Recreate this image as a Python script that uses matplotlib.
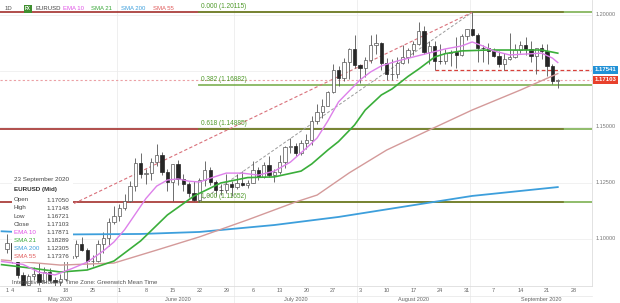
import matplotlib
matplotlib.use("Agg")
import matplotlib.pyplot as plt
import matplotlib.transforms as mtransforms
from matplotlib.patches import Rectangle
import numpy as np
import pandas as pd

plt.rcParams['font.family'] = ['Liberation Sans', 'DejaVu Sans']

START = "2020-05-01"
dates = pd.bdate_range(START, "2020-09-23")

# daily EUR/USD candles (mid)
opens = [1.0955, 1.0982, 1.0907, 1.0838, 1.0795, 1.0833, 1.0840, 1.0808, 1.0850, 1.0816,
         1.0806, 1.0820, 1.0915, 1.0923, 1.0976, 1.0948, 1.0900, 1.0902, 1.0976, 1.1005,
         1.1076, 1.1100, 1.1135, 1.1170, 1.1235, 1.1336, 1.1289, 1.1295, 1.1341, 1.1374,
         1.1298, 1.1255, 1.1333, 1.1265, 1.1245, 1.1205, 1.1175, 1.1260, 1.1307, 1.1251,
         1.1219, 1.1218, 1.1245, 1.1233, 1.1250, 1.1238, 1.1247, 1.1309, 1.1274, 1.1330,
         1.1284, 1.1300, 1.1343, 1.1411, 1.1413, 1.1382, 1.1428, 1.1443, 1.1527, 1.1568,
         1.1595, 1.1655, 1.1755, 1.1718, 1.1789, 1.1846, 1.1777, 1.1762, 1.1800, 1.1866,
         1.1875, 1.1787, 1.1736, 1.1737, 1.1787, 1.1813, 1.1842, 1.1870, 1.1930, 1.1834,
         1.1860, 1.1795, 1.1792, 1.1831, 1.1832, 1.1821, 1.1904, 1.1936, 1.1912, 1.1853,
         1.1850, 1.1838, 1.1815, 1.1780, 1.1803, 1.1813, 1.1845, 1.1865, 1.1846, 1.1815,
         1.1850, 1.1838, 1.1770, 1.17050]
highs = [1.1019, 1.0988, 1.0925, 1.0850, 1.0840, 1.0875, 1.0890, 1.0873, 1.0870, 1.0830,
         1.0840, 1.0925, 1.0975, 1.0995, 1.1008, 1.0957, 1.0925, 1.0995, 1.1030, 1.1092,
         1.1146, 1.1155, 1.1198, 1.1258, 1.1361, 1.1384, 1.1310, 1.1359, 1.1422, 1.1389,
         1.1312, 1.1335, 1.1350, 1.1290, 1.1255, 1.1257, 1.1270, 1.1349, 1.1320, 1.1263,
         1.1244, 1.1288, 1.1259, 1.1290, 1.1303, 1.1264, 1.1346, 1.1320, 1.1344, 1.1371,
         1.1310, 1.1375, 1.1413, 1.1452, 1.1427, 1.1443, 1.1468, 1.1546, 1.1601, 1.1626,
         1.1658, 1.1781, 1.1772, 1.1808, 1.1850, 1.1908, 1.1780, 1.1810, 1.1908, 1.1916,
         1.1880, 1.1806, 1.1805, 1.1814, 1.1865, 1.1853, 1.1882, 1.1966, 1.1951, 1.1884,
         1.1883, 1.1870, 1.1849, 1.1843, 1.1900, 1.1916, 1.1938, 1.20115, 1.1920, 1.1866,
         1.1873, 1.1850, 1.1837, 1.1831, 1.1917, 1.1872, 1.1885, 1.1900, 1.1882, 1.1851,
         1.1872, 1.1872, 1.1781, 1.17148]
lows = [1.0935, 1.0893, 1.0825, 1.0782, 1.0766, 1.0815, 1.0794, 1.0805, 1.0808, 1.0775,
        1.0786, 1.0812, 1.0900, 1.0915, 1.0946, 1.0870, 1.0880, 1.0895, 1.0935, 1.0968,
        1.1065, 1.1078, 1.1127, 1.1163, 1.1212, 1.1269, 1.1245, 1.1260, 1.1325, 1.1285,
        1.1211, 1.1170, 1.1241, 1.1215, 1.1185, 1.1168, 1.11652, 1.1235, 1.1240, 1.1189,
        1.1197, 1.1204, 1.1190, 1.1223, 1.1234, 1.1226, 1.1247, 1.1260, 1.1270, 1.1275,
        1.1254, 1.1290, 1.1314, 1.1385, 1.1371, 1.1375, 1.1400, 1.1420, 1.1511, 1.1540,
        1.1591, 1.1650, 1.1683, 1.1706, 1.1715, 1.1762, 1.1697, 1.1721, 1.1787, 1.1825,
        1.1755, 1.1710, 1.1711, 1.1716, 1.1781, 1.1785, 1.1819, 1.1867, 1.1826, 1.1782,
        1.17541, 1.1781, 1.1780, 1.1772, 1.1762, 1.1816, 1.1888, 1.1907, 1.1790, 1.1790,
        1.1782, 1.1811, 1.1766, 1.1752, 1.1800, 1.1809, 1.1831, 1.1822, 1.1789, 1.1737,
        1.1805, 1.1729, 1.1690, 1.16721]
closes = [1.0982, 1.0907, 1.0838, 1.0795, 1.0833, 1.0840, 1.0808, 1.0850, 1.0816, 1.0806,
          1.0820, 1.0915, 1.0923, 1.0976, 1.0948, 1.0900, 1.0902, 1.0976, 1.1005, 1.1076,
          1.1100, 1.1135, 1.1170, 1.1235, 1.1336, 1.1289, 1.1295, 1.1341, 1.1374, 1.1298,
          1.1255, 1.1333, 1.1265, 1.1245, 1.1205, 1.1175, 1.1260, 1.1307, 1.1251, 1.1219,
          1.1218, 1.1245, 1.1233, 1.1250, 1.1238, 1.1247, 1.1309, 1.1274, 1.1330, 1.1284,
          1.1300, 1.1343, 1.1411, 1.1413, 1.1382, 1.1428, 1.1443, 1.1527, 1.1568, 1.1595,
          1.1655, 1.1755, 1.1718, 1.1789, 1.1846, 1.1777, 1.1762, 1.1800, 1.1866, 1.1875,
          1.1787, 1.1736, 1.1737, 1.1787, 1.1813, 1.1842, 1.1870, 1.1930, 1.1834, 1.1860,
          1.1795, 1.1792, 1.1831, 1.1832, 1.1821, 1.1904, 1.1936, 1.1912, 1.1853, 1.1850,
          1.1838, 1.1815, 1.1780, 1.1803, 1.1813, 1.1845, 1.1865, 1.1846, 1.1815, 1.1850,
          1.1838, 1.1770, 1.1705, 1.17103]

# moving averages
ema10_dates = ["2020-04-30", "2020-05-01", "2020-05-06", "2020-05-11", "2020-05-14", "2020-05-19",
               "2020-05-22", "2020-05-27", "2020-05-29", "2020-06-02", "2020-06-04", "2020-06-08",
               "2020-06-10", "2020-06-12", "2020-06-16", "2020-06-18", "2020-06-22", "2020-06-24",
               "2020-06-29", "2020-07-02", "2020-07-07", "2020-07-10", "2020-07-15", "2020-07-20",
               "2020-07-22", "2020-07-24", "2020-07-28", "2020-07-30", "2020-08-03", "2020-08-05",
               "2020-08-07", "2020-08-12", "2020-08-17", "2020-08-20", "2020-08-25", "2020-08-28",
               "2020-09-01", "2020-09-03", "2020-09-07", "2020-09-10", "2020-09-15", "2020-09-18",
               "2020-09-22", "2020-09-23"]
ema10 = [1.0898, 1.0895, 1.0885, 1.0850, 1.0838, 1.0865, 1.0895, 1.0945, 1.0985, 1.1040, 1.1110,
         1.1180, 1.1235, 1.1262, 1.1267, 1.1257, 1.1253, 1.1270, 1.1293, 1.1293, 1.1284, 1.1302,
         1.1342, 1.1405, 1.1450, 1.1526, 1.1611, 1.1660, 1.1709, 1.1745, 1.1772, 1.1794, 1.1812,
         1.1830, 1.1848, 1.1861, 1.1879, 1.1861, 1.1839, 1.1821, 1.1825, 1.1829, 1.1807, 1.17871]

sma21_dates = ["2020-04-30", "2020-05-08", "2020-05-15", "2020-05-22", "2020-05-29", "2020-06-05",
               "2020-06-12", "2020-06-19", "2020-06-26", "2020-07-03", "2020-07-10", "2020-07-17",
               "2020-07-21", "2020-07-24", "2020-07-28", "2020-07-31", "2020-08-04", "2020-08-07",
               "2020-08-11", "2020-08-14", "2020-08-18", "2020-08-21", "2020-08-25", "2020-08-28",
               "2020-09-04", "2020-09-11", "2020-09-18", "2020-09-23"]
sma21 = [1.0884, 1.0867, 1.0851, 1.0860, 1.0900, 1.0990, 1.1106, 1.1191, 1.1249, 1.1273, 1.1276,
         1.1302, 1.1334, 1.1396, 1.1434, 1.1508, 1.1575, 1.1642, 1.1669, 1.1725, 1.1758, 1.1812,
         1.1827, 1.1839, 1.1843, 1.1843, 1.1843, 1.18289]

sma55_dates = ["2020-04-30", "2020-05-15", "2020-05-29", "2020-06-10", "2020-06-22", "2020-07-03",
               "2020-07-16", "2020-07-22", "2020-07-30", "2020-08-10", "2020-08-20", "2020-09-01",
               "2020-09-14", "2020-09-23"]
sma55 = [1.0905, 1.0882, 1.0891, 1.0949, 1.1008, 1.1084, 1.1164, 1.1195, 1.1294, 1.1396, 1.1486,
         1.1575, 1.1664, 1.17376]

sma200_dates = ["2020-04-30", "2020-05-19", "2020-06-05", "2020-06-22", "2020-07-10", "2020-07-28",
                "2020-08-14", "2020-09-01", "2020-09-23"]
sma200 = [1.1033, 1.1019, 1.1021, 1.1030, 1.1061, 1.1097, 1.1146, 1.1191, 1.12305]

# fibonacci retracement between the June low and the September high
fib_dates = ["2020-06-22", "2020-09-01"]
fib_prices = [1.11652, 1.20115]
fib_ratios = [0.000, 0.382, 0.618, 1.000]
trend_dates = ["2020-05-11", "2020-09-01"]
trend_prices = [1.1082, 1.20115]
resist_levels = [1.20115, 1.14885, 1.11652]
support_start = "2020-08-21"
support_level = 1.17541
last_close = 1.17103

axis_levels = [1.10000, 1.12500, 1.15000, 1.20000]
tick_dates = ["2020-05-01", "2020-05-04", "2020-05-11", "2020-05-18", "2020-05-25", "2020-06-01",
              "2020-06-08", "2020-06-15", "2020-06-22", "2020-06-29", "2020-07-06", "2020-07-13",
              "2020-07-20", "2020-07-27", "2020-08-03", "2020-08-10", "2020-08-17", "2020-08-24",
              "2020-08-31", "2020-09-07", "2020-09-14", "2020-09-21", "2020-09-28"]
month_names = ["May 2020", "June 2020", "July 2020", "August 2020", "September 2020"]
month_label_dates = ["2020-05-15", "2020-06-16", "2020-07-16", "2020-08-17", "2020-09-18"]
month_starts = ["2020-06-01", "2020-07-01", "2020-08-03", "2020-09-01"]


def bd(d):
    return np.busday_count(START, np.array(d, dtype="datetime64[D]"))


W, H = 620, 303
fig = plt.figure(figsize=(W / 100, H / 100), dpi=100)
ax = fig.add_axes([0, 17 / H, 592 / W, 286 / H])
ax.set_xlim(-1.3, 109.4)
ax.set_ylim(1.07885, 1.20665)
ax.set_xticks([])
ax.set_yticks([])
for s in ["top", "left", "bottom"]:
    ax.spines[s].set_visible(False)
ax.spines["right"].set_color("#dddddd")
ax.spines["right"].set_linewidth(0.6)


def fpos(xp, yp):
    return xp / W, 1 - yp / H


# grid
for lv in axis_levels + [1.175]:
    ax.axhline(lv, color="#efefef", lw=0.6, zorder=0)
for d in month_starts:
    ax.axvline(bd(d) - 0.5, ymin=-17 / 286, ymax=1, color="#ececec", lw=0.6, zorder=0, clip_on=False)

xlo, xhi = ax.get_xlim()

# horizontal support / resistance and fib levels
red_end = bd("2020-09-24")
for lv in resist_levels:
    ax.plot([xlo, red_end], [lv, lv], color="#a3302c", lw=1.2, zorder=2)
f0, f1 = bd(fib_dates[0]), bd(fib_dates[1])
span = fib_prices[1] - fib_prices[0]
for r in fib_ratios:
    lv = fib_prices[1] - r * span
    ax.plot([f0, xhi], [lv, lv], color="#5e9e2a", lw=1.3, alpha=0.75, zorder=3)
    ax.text(f0 + 0.2, lv + 0.0009, "%.3f (%.5f)" % (r, lv), fontsize=4.7, color="#4f9a2a",
            ha="left", va="bottom", zorder=9)

ax.plot(bd(fib_dates), fib_prices, color="#9a9a9a", lw=0.7, ls=(0, (3, 2)), zorder=3)
ax.plot(bd(trend_dates), trend_prices, color="#d9707a", lw=0.8, ls=(0, (3, 2)), zorder=3)
ax.plot([bd(support_start), xhi], [support_level] * 2, color="#d8403a", lw=0.9, ls=(0, (3, 2)), zorder=3)
ax.axhline(last_close, color="#eba0a4", lw=0.8, ls=(0, (2, 2)), zorder=3)

# candles
x = np.arange(len(dates))
o, h, l, c = (np.array(v) for v in (opens, highs, lows, closes))
up = c >= o
ax.vlines(x, l, h, color="#555555", lw=0.6, zorder=4)
ax.bar(x[up], np.maximum((c - o)[up], 0.00008), bottom=o[up], width=0.62, color="white",
       edgecolor="#555555", lw=0.5, zorder=5)
ax.bar(x[~up], (o - c)[~up], bottom=c[~up], width=0.62, color="#262626",
       edgecolor="#262626", lw=0.5, zorder=5)

# moving averages
ax.plot(bd(sma200_dates), sma200, color="#3d9fdc", lw=1.3, zorder=6)
ax.plot(bd(sma55_dates), sma55, color="#d49a9a", lw=1.0, zorder=6)
ax.plot(bd(sma21_dates), sma21, color="#3aae3a", lw=1.2, zorder=6)
ax.plot(bd(ema10_dates), ema10, color="#dd80ea", lw=1.0, zorder=6)

# right price axis
yax = mtransforms.blended_transform_factory(ax.transAxes, ax.transData)
for lv in axis_levels:
    ax.text(1.006, lv, "%.5f" % lv, transform=yax, fontsize=4, color="#777777",
            ha="left", va="center", clip_on=False)
for lv, col in [(support_level, "#2191d6"), (last_close, "#e8412c")]:
    ax.text(1.004, lv, "%.5f" % lv, transform=yax, fontsize=4.3, color="white", weight="bold",
            ha="left", va="center", clip_on=False, zorder=10,
            bbox=dict(boxstyle="square,pad=0.25", fc=col, ec="none"))

# date axis
xax = mtransforms.blended_transform_factory(ax.transData, fig.transFigure)
fig.add_artist(plt.Line2D([0, 592 / W], [1 - 286 / H] * 2, color="#dddddd", lw=0.6))
fig.add_artist(plt.Line2D([0, 592 / W], [1 - 295.5 / H] * 2, color="#e6e6e6", lw=0.5))
for d in tick_dates:
    ax.text(bd(d), 1 - 291 / H, str(pd.Timestamp(d).day), transform=xax, fontsize=4,
            color="#666666", ha="center", va="center", clip_on=False)
for d, name in zip(month_label_dates, month_names):
    ax.text(bd(d), 1 - 299.5 / H, name, transform=xax, fontsize=4, color="#666666",
            ha="center", va="center", clip_on=False)

# top-left header
fig.text(*fpos(5, 9), "1D", fontsize=4.3, color="#555555", va="center")
fig.text(*fpos(25, 9), "FX", fontsize=3.3, color="white", weight="bold", va="center",
         bbox=dict(boxstyle="square,pad=0.3", fc="#3f8f2f", ec="none"))
header = [("EURUSD", "#444444", 35), ("EMA 10", "#e052e6", 63), ("SMA 21", "#39a839", 91),
          ("SMA 200", "#3d9fdc", 121), ("SMA 55", "#e05a5a", 153)]
for txt, col, xp in header:
    fig.text(*fpos(xp, 9), txt, fontsize=4.3, color=col, va="center")

# info panel
ax.add_patch(Rectangle(fpos(12, 262), 61 / W, 89 / H, transform=fig.transFigure,
                       facecolor="white", edgecolor="none", zorder=8, clip_on=False))
info = [("Open", "%.5f" % opens[-1], "#444444"), ("High", "%.5f" % highs[-1], "#444444"),
        ("Low", "%.5f" % lows[-1], "#444444"), ("Close", "%.5f" % closes[-1], "#444444"),
        ("EMA 10", "%.5f" % ema10[-1], "#e052e6"), ("SMA 21", "%.5f" % sma21[-1], "#39a839"),
        ("SMA 200", "%.5f" % sma200[-1], "#3d9fdc"), ("SMA 55", "%.5f" % sma55[-1], "#e05a5a")]
fig.text(*fpos(14, 180), "23 September 2020", fontsize=4.5, color="#444444", va="center", zorder=9)
fig.text(*fpos(14, 190), "EURUSD (Mid)", fontsize=4.5, color="#333333", weight="bold", va="center", zorder=9)
for i, (lab, val, col) in enumerate(info):
    yp = 200 + 8 * i
    fig.text(*fpos(14, yp), lab, fontsize=4.5, color=col, va="center", zorder=9)
    fig.text(*fpos(46, yp), val, fontsize=4.5, color="#444444", va="center", zorder=9)

fig.text(*fpos(12, 283), "Interactive Brokers  Time Zone: Greenwich Mean Time", fontsize=4.3,
         color="#555555", va="center", zorder=9)

fig.savefig("out.png", dpi=100)
